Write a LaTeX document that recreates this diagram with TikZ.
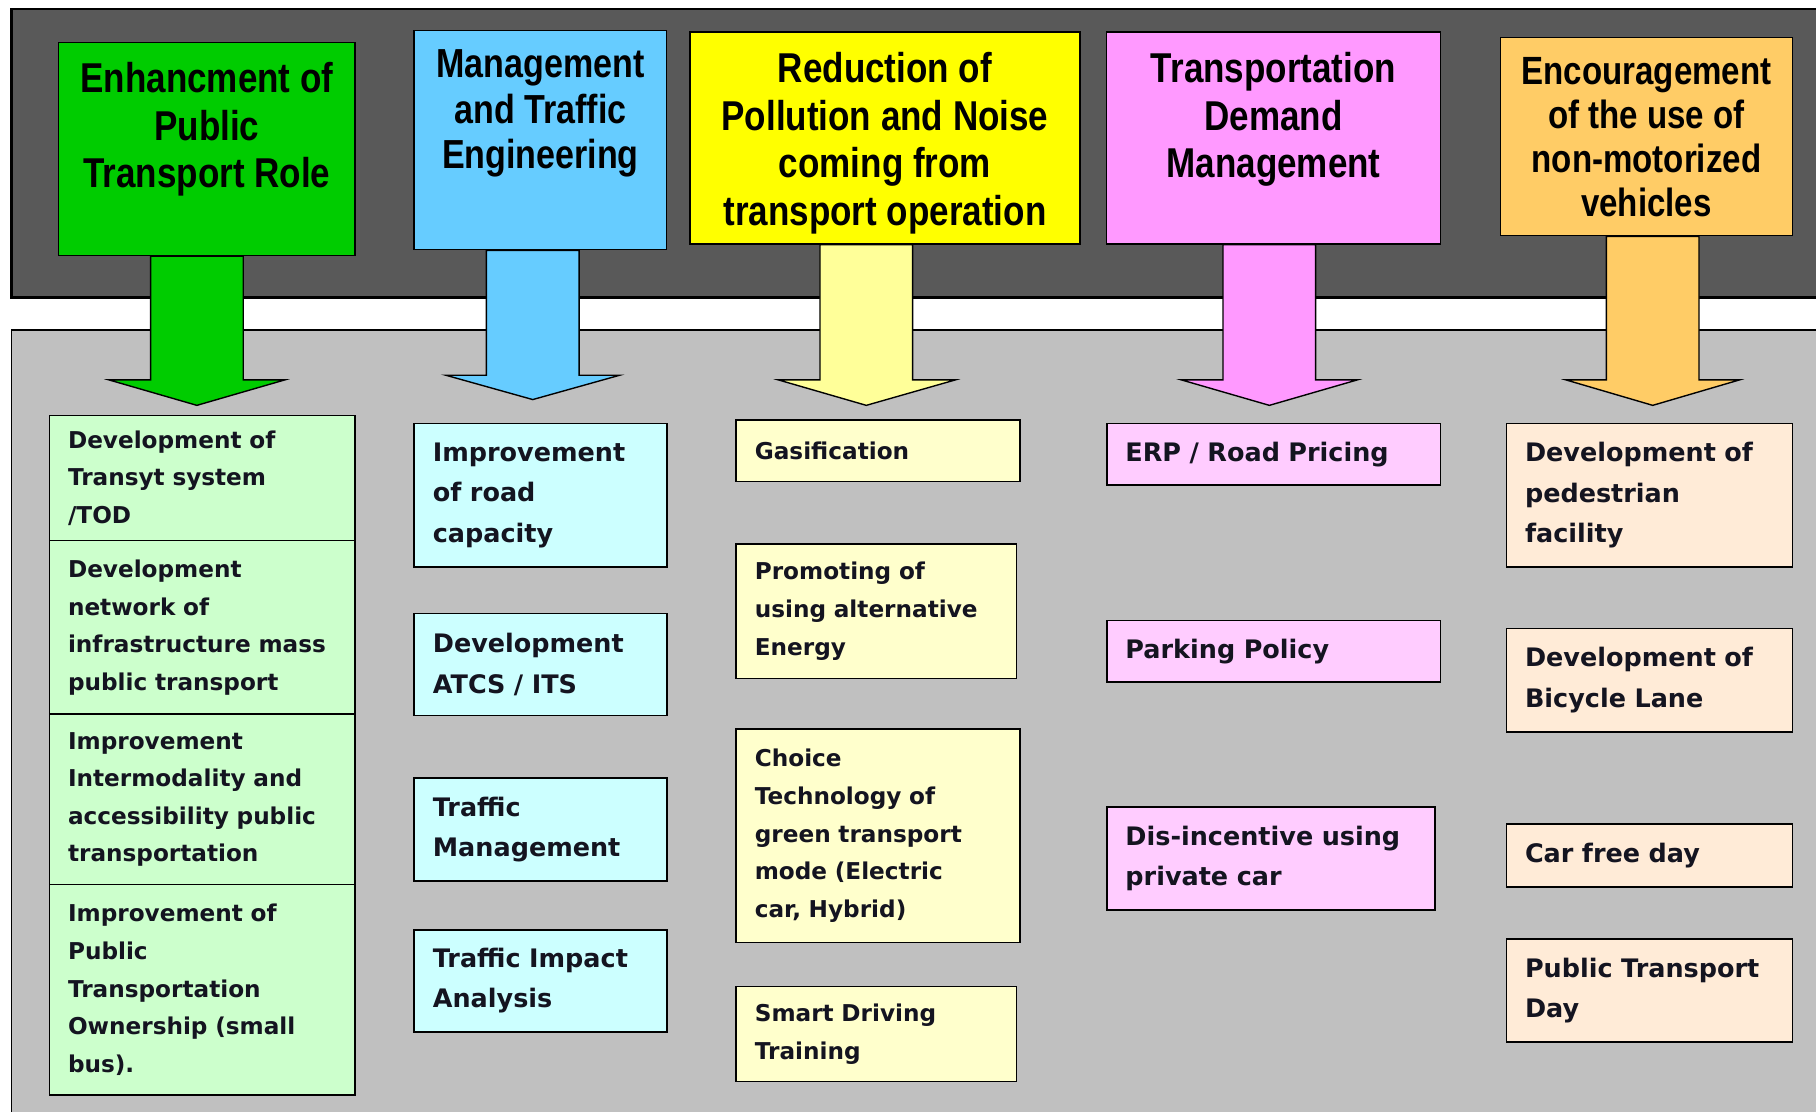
\documentclass[tikz,border=0pt]{standalone}
\usepackage{fontspec}
\setmainfont{DejaVu Sans}
\newfontfamily\titlefont[FakeStretch=0.84]{Liberation Sans}
\newfontfamily\boxfont{DejaVu Sans}
\usetikzlibrary{calc}
\pgfdeclarelayer{back}
\pgfdeclarelayer{arrowlayer}
\pgfsetlayers{back,arrowlayer,main}
\definecolor{band}{HTML}{595959}
\definecolor{panel}{HTML}{C0C0C0}
\definecolor{tgreen}{HTML}{00CC00}
\definecolor{tblue}{HTML}{66CCFF}
\definecolor{tyellow}{HTML}{FFFF00}
\definecolor{tpink}{HTML}{FF99FF}
\definecolor{torange}{HTML}{FFCC66}
\definecolor{ayellow}{HTML}{FFFF99}
\definecolor{sgreen}{HTML}{CCFFCC}
\definecolor{sblue}{HTML}{CCFFFF}
\definecolor{syellow}{HTML}{FFFFCC}
\definecolor{spink}{HTML}{FFCCFF}
\definecolor{sorange}{HTML}{FFEBD7}
\definecolor{stext}{HTML}{141420}
\tikzset{
  tbox/.style={draw=black, line width=1.2pt, anchor=north west, inner sep=0pt},
  ttext/.style={anchor=north, align=center, inner sep=0pt, text=black},
  tfA/.style={font=\titlefont\bfseries\fontsize{36}{41}\selectfont},
  tfB/.style={font=\titlefont\bfseries\fontsize{35}{39}\selectfont},
  tfC/.style={font=\titlefont\bfseries\fontsize{34}{38}\selectfont},
  sbox/.style={draw=black, line width=1.5pt, anchor=north west, inner xsep=16pt, inner ysep=0pt, align=left, text=stext},
  sfA/.style={font=\boxfont\bfseries\fontsize{20}{32.5}\selectfont},
  sfB/.style={font=\boxfont\bfseries\fontsize{22}{35}\selectfont},
  blockarr/.style={draw=black, line width=1.2pt, line join=miter},
}
\begin{document}
\begin{tikzpicture}[x=1pt, y=-1pt]
\useasboundingbox (0,0) rectangle (1568,960);
\begin{pgfonlayer}{back}
  \fill[white] (0,0) rectangle (1568,960);
  \draw[fill=band, line width=2pt] (10,8) rectangle (1600,257);
  \draw[fill=panel, line width=1.5pt] (10,285) rectangle (1600,1000);
\end{pgfonlayer}

% title boxes
\node[tbox, fill=tgreen,  minimum width=256pt, minimum height=184pt] (t1) at (50,36) {};
\node[tbox, fill=tblue,   minimum width=218pt, minimum height=189pt] (t2) at (357,26) {};
\node[tbox, fill=tyellow, minimum width=337pt, minimum height=183pt] (t3) at (595,27) {};
\node[tbox, fill=tpink,   minimum width=288pt, minimum height=183pt] (t4) at (955,27) {};
\node[tbox, fill=torange, minimum width=252pt, minimum height=171pt] (t5) at (1295,32) {};

\node[ttext, tfA] (t1x) at ($(t1.north)+(0,18)$) {Enhancment of\\Public\\Transport Role};
\node[ttext, tfB] (t2x) at ($(t2.north)+(0,17)$) {Management\\and Traffic\\Engineering};
\node[ttext, tfA] (t3x) at ($(t3.north)+(0,18)$) {Reduction of\\Pollution and Noise\\coming from\\transport operation};
\node[ttext, tfA] (t4x) at ($(t4.north)+(0,18)$) {Transportation\\Demand\\Management};
\node[ttext, tfC] (t5x) at ($(t5.north)+(0,17)$) {Encouragement\\of the use of\\non-motorized\\vehicles};

% block arrows
\coordinate (a1) at (170,350);
\coordinate (a2) at (460,345);
\coordinate (a3) at (748,350);
\coordinate (a4) at (1096,350);
\coordinate (a5) at (1427,350);
\begin{pgfonlayer}{arrowlayer}
  \path[blockarr, fill=tgreen] (130,0 |- t1.south) -- (210,0 |- t1.south) -- (210,328) -- (246,328) -- (a1) -- (94,328) -- (130,328) -- cycle;
  \path[blockarr, fill=tblue] (420,0 |- t2.south) -- (500,0 |- t2.south) -- (500,324) -- (535,324) -- (a2) -- (385,324) -- (420,324) -- cycle;
  \path[blockarr, fill=ayellow] (708,0 |- t3.south) -- (788,0 |- t3.south) -- (788,328) -- (825,328) -- (a3) -- (672,328) -- (708,328) -- cycle;
  \path[blockarr, fill=tpink] (1056,0 |- t4.south) -- (1136,0 |- t4.south) -- (1136,328) -- (1172,328) -- (a4) -- (1020,328) -- (1056,328) -- cycle;
  \path[blockarr, fill=torange] (1387,0 |- t5.south) -- (1467,0 |- t5.south) -- (1467,328) -- (1502,328) -- (a5) -- (1352,328) -- (1387,328) -- cycle;
\end{pgfonlayer}

% column 1
\node[sbox, sfA, fill=sgreen, text width=232pt, minimum width=264pt, minimum height=108pt] (g1) at (42,358) {Development of\\Transyt system\\/TOD};
\node[sbox, sfA, fill=sgreen, text width=232pt, minimum width=264pt, minimum height=150pt] (g2) at (42,466) {Development\\network of\\infrastructure mass\\public transport};
\node[sbox, sfA, fill=sgreen, text width=232pt, minimum width=264pt, minimum height=147pt] (g3) at (42,616) {Improvement\\Intermodality and\\accessibility public\\transportation};
\node[sbox, sfA, fill=sgreen, text width=232pt, minimum width=264pt, minimum height=182pt] (g4) at (42,763) {Improvement of\\Public\\Transportation\\Ownership (small\\bus).};

% column 2
\node[sbox, sfB, fill=sblue, text width=186pt, minimum width=218pt, minimum height=124pt] (b1) at (357,365) {Improvement\\of road\\capacity};
\node[sbox, sfB, fill=sblue, text width=186pt, minimum width=218pt, minimum height=88pt] (b2) at (357,529) {Development\\ATCS / ITS};
\node[sbox, sfB, fill=sblue, text width=186pt, minimum width=218pt, minimum height=89pt] (b3) at (357,671) {Traffic\\Management};
\node[sbox, sfB, fill=sblue, text width=186pt, minimum width=218pt, minimum height=88pt] (b4) at (357,802) {Traffic Impact\\Analysis};

% column 3
\node[sbox, sfA, fill=syellow, text width=213pt, minimum width=245pt, minimum height=53pt] (y1) at (635,362) {Gasification};
\node[sbox, sfA, fill=syellow, text width=210pt, minimum width=242pt, minimum height=116pt] (y2) at (635,469) {Promoting of\\using alternative\\Energy};
\node[sbox, sfA, fill=syellow, text width=213pt, minimum width=245pt, minimum height=184pt] (y3) at (635,629) {Choice\\Technology of\\green transport\\mode (Electric\\car, Hybrid)};
\node[sbox, sfA, fill=syellow, text width=210pt, minimum width=242pt, minimum height=82pt] (y4) at (635,851) {Smart Driving\\Training};

% column 4
\node[sbox, sfB, fill=spink, text width=256pt, minimum width=288pt, minimum height=53pt] (p1) at (955,365) {ERP / Road Pricing};
\node[sbox, sfB, fill=spink, text width=256pt, minimum width=288pt, minimum height=53pt] (p2) at (955,535) {Parking Policy};
\node[sbox, sfB, fill=spink, text width=251pt, minimum width=283pt, minimum height=89pt] (p3) at (955,696) {Dis-incentive using\\private car};

% column 5
\node[sbox, sfB, fill=sorange, text width=215pt, minimum width=247pt, minimum height=124pt] (o1) at (1300,365) {Development of\\pedestrian\\facility};
\node[sbox, sfB, fill=sorange, text width=215pt, minimum width=247pt, minimum height=89pt] (o2) at (1300,542) {Development of\\Bicycle Lane};
\node[sbox, sfB, fill=sorange, text width=215pt, minimum width=247pt, minimum height=54pt] (o3) at (1300,711) {Car free day};
\node[sbox, sfB, fill=sorange, text width=215pt, minimum width=247pt, minimum height=89pt] (o4) at (1300,810) {Public Transport\\Day};
\end{tikzpicture}
\end{document}
